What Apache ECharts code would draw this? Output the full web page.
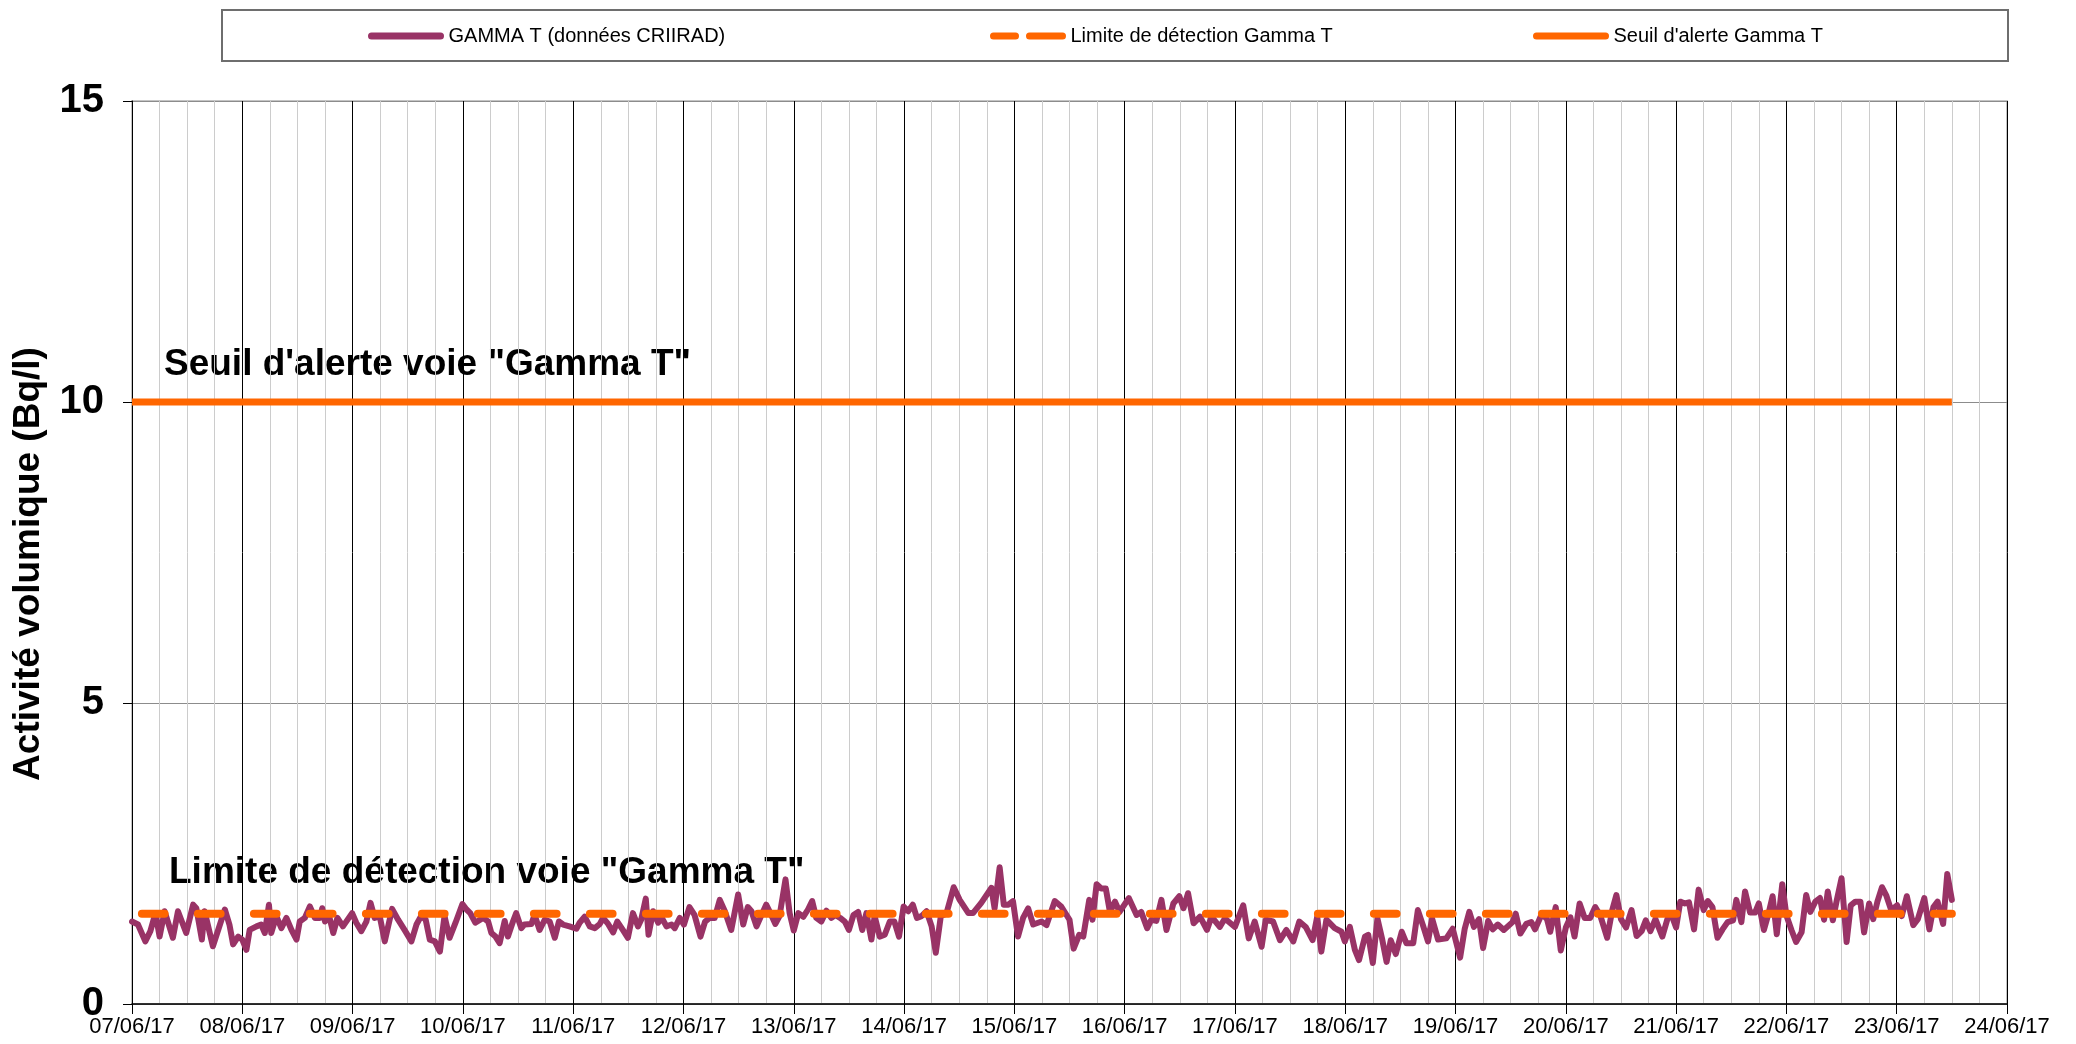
<!DOCTYPE html>
<html>
<head>
<meta charset="utf-8">
<title>Activité volumique Gamma T</title>
<script src="https://cdn.jsdelivr.net/npm/echarts@6/dist/echarts.min.js"></script>
<style>
  html, body { margin: 0; padding: 0; background: #ffffff; }
  #chart { width: 2076px; height: 1044px; }
</style>
</head>
<body>
<div id="chart"></div>
<script>
// Day labels of the time axis (one tick per day, midnight)
const dayLabels = [
  '07/06/17', '08/06/17', '09/06/17', '10/06/17', '11/06/17', '12/06/17',
  '13/06/17', '14/06/17', '15/06/17', '16/06/17', '17/06/17', '18/06/17',
  '19/06/17', '20/06/17', '21/06/17', '22/06/17', '23/06/17', '24/06/17'
];

// GAMMA T measurements: time in hours since 07/06/17 00:00, activity in Bq/l
const gammaHours = [
  0, 1.3, 2.9, 4.0, 5.1, 6.0, 7.1, 8.9, 10.0, 11.8, 13.3, 14.0, 15.2, 15.8, 17.6, 20.2, 21.2, 22.0, 23.1,
  24.0, 24.9, 25.6, 27.1, 28.1, 28.9, 29.8, 30.3, 31.4, 32.5, 33.6, 34.7, 35.8, 36.5, 37.6, 38.7, 39.8,
  40.9, 41.4, 42.0, 42.9, 43.8, 44.7, 45.9, 47.9,
  48.8, 49.9, 51.0, 51.9, 52.8, 53.9, 55.0, 56.6, 57.9, 59.3, 60.8, 61.9, 62.9, 63.9, 64.8, 65.9, 67.0,
  68.0, 69.1, 70.4, 71.9, 72.8, 73.6, 74.7, 76.4, 77.5, 78.2, 79.1, 80.0, 81.1, 81.8, 82.9, 83.6, 84.7,
  85.4, 86.9, 87.6, 88.7, 89.8, 90.9, 92.0, 92.9, 93.8, 95.2, 96.7,
  97.4, 98.5, 99.6, 100.7, 101.8, 102.5, 103.6, 104.7, 105.6, 106.8, 107.9, 109.0, 110.1, 110.8, 111.8,
  112.4, 113.4, 114.5, 115.3, 116.3, 117.4, 118.1, 119.2, 120.1, 121.3, 122.4, 123.7, 124.7, 125.7,
  126.8, 127.9, 129.0, 130.4, 131.9, 133.0, 134.0, 134.8, 135.9, 137.0, 138.0, 139.1, 140.0, 140.9,
  142.2, 143.1, 144.0, 145.0, 146.1,
  147.1, 148.0, 148.9, 150.0, 151.1, 152.2, 153.1, 154.1, 155.1, 156.0, 157.0, 158.0, 158.9, 159.8,
  160.9, 161.6, 162.7, 163.8, 164.9, 165.9, 166.9, 167.9, 168.9, 169.9, 170.8, 171.8, 172.9, 174.0,
  174.9, 176.0, 177.2, 178.8, 180.1, 182.0, 183.0, 184.8, 187.0, 187.7, 188.8, 189.7, 190.7, 191.7,
  192.8, 193.9, 195.0, 196.1,
  197.9, 199.0, 200.8, 202.2, 204.0, 204.9, 206.1, 207.0, 208.3, 209.0, 209.9, 210.9, 211.9, 212.8,
  213.9, 214.9, 216.9, 218.6, 219.6, 220.9, 221.8, 222.9, 224.0, 225.1, 226.6, 227.9, 228.8, 229.8,
  231.0, 232.4, 233.9, 234.9, 236.7, 237.8, 240.0, 241.8, 243.0, 244.3, 245.8, 246.7, 248.3, 249.8,
  251.2, 252.7, 254.0, 255.4, 256.9, 257.9, 258.8, 259.9, 261.7, 263.2, 263.9, 265.0, 266.1, 267.0,
  268.3, 269.0, 270.0, 271.0, 272.0, 273.0, 273.9, 275.0, 276.3, 277.3, 278.8, 279.8, 280.9, 282.0,
  282.9, 284.2, 286.0, 287.4, 289.0, 290.0, 291.0, 292.0, 293.1, 294.0, 295.1, 296.1, 297.2, 298.5,
  300.4, 301.1, 302.1, 303.4, 304.5, 305.3, 306.8, 307.9, 308.6, 309.8, 310.9, 312.0, 313.0, 313.9,
  315.0, 316.1, 317.3, 318.4, 319.5, 321.0, 322.1, 323.0, 324.0, 325.1, 326.3, 327.4, 328.5, 329.4,
  330.4, 331.5, 333.0, 334.1, 334.9, 336.0, 336.9, 337.9, 338.8, 339.9, 340.9, 342.0, 342.9, 343.9,
  345.0, 346.1, 347.2, 348.4, 349.1, 350.2, 351.0, 352.1, 353.2, 354.0, 355.1, 356.1, 357.0, 357.9,
  359.1, 360.0, 361.1, 362.1, 363.3, 364.3, 365.2, 366.3, 367.3, 368.2, 369.0, 370.1, 370.9, 372.0,
  373.1, 374.0, 375.0, 376.1, 376.9, 378.0, 378.9, 379.8, 380.8, 381.7, 382.8, 384.1, 385.1, 386.2,
  387.6, 388.6, 390.0, 391.1, 392.0, 392.9, 394.1, 395.0, 396.0
];
const gammaValues = [
  1.37, 1.32, 1.04, 1.21, 1.51, 1.12, 1.54, 1.10, 1.54, 1.18, 1.65, 1.59, 1.07, 1.54, 0.96, 1.57, 1.32, 0.99, 1.12,
  1.07, 0.90, 1.23, 1.29, 1.32, 1.18, 1.65, 1.18, 1.46, 1.26, 1.43, 1.23, 1.07, 1.37, 1.43, 1.62, 1.43,
  1.43, 1.59, 1.37, 1.46, 1.18, 1.43, 1.29, 1.51,
  1.35, 1.21, 1.37, 1.68, 1.43, 1.46, 1.04, 1.58, 1.40, 1.23, 1.04, 1.32, 1.46, 1.40, 1.07, 1.04, 0.87,
  1.46, 1.10, 1.35, 1.66, 1.57, 1.51, 1.35, 1.43, 1.37, 1.18, 1.12, 1.01, 1.38, 1.12, 1.37, 1.51, 1.26,
  1.32, 1.33, 1.48, 1.23, 1.40, 1.37, 1.10, 1.37, 1.32, 1.29, 1.25,
  1.35, 1.45, 1.29, 1.26, 1.33, 1.43, 1.33, 1.19, 1.37, 1.23, 1.10, 1.51, 1.29, 1.40, 1.75,
  1.15, 1.54, 1.35, 1.43, 1.29, 1.32, 1.26, 1.43, 1.32, 1.61, 1.48, 1.12, 1.37, 1.43,
  1.43, 1.73, 1.54, 1.23, 1.82, 1.32, 1.61, 1.54, 1.29, 1.48, 1.65, 1.48, 1.33, 1.46,
  2.07, 1.51, 1.22, 1.51, 1.45,
  1.57, 1.71, 1.43, 1.37, 1.55, 1.43, 1.48, 1.43, 1.37, 1.23, 1.48, 1.53, 1.23, 1.51,
  1.07, 1.46, 1.12, 1.15, 1.37, 1.37, 1.12, 1.62, 1.54, 1.65, 1.43, 1.46, 1.54, 1.29,
  0.85, 1.46, 1.50, 1.94, 1.73, 1.51, 1.51, 1.68, 1.93, 1.59, 2.27, 1.65, 1.65, 1.71,
  1.12, 1.43, 1.59, 1.32,
  1.37, 1.31, 1.71, 1.62, 1.40, 0.92, 1.15, 1.12, 1.73, 1.40, 1.99, 1.92, 1.92, 1.53,
  1.70, 1.53, 1.76, 1.48, 1.53, 1.26, 1.40, 1.38, 1.73, 1.23, 1.67, 1.79, 1.59, 1.84,
  1.34, 1.45, 1.23, 1.45, 1.28, 1.42, 1.28, 1.64, 1.09, 1.37, 0.95, 1.40, 1.37, 1.06,
  1.23, 1.04, 1.37, 1.28, 1.06, 1.45, 0.87, 1.40, 1.26, 1.20, 1.04, 1.28, 0.90, 0.73,
  1.12, 1.15, 0.68, 1.42, 1.09, 0.70, 1.06, 0.83, 1.20, 1.01, 1.01, 1.56, 1.31, 1.04,
  1.42, 1.07, 1.09, 1.25, 0.77, 1.25, 1.53, 1.28, 1.41, 0.93, 1.38, 1.24, 1.32, 1.23,
  1.36, 1.50, 1.17, 1.33, 1.36, 1.24, 1.50, 1.41, 1.20, 1.61, 0.89, 1.27, 1.44, 1.12,
  1.67, 1.43, 1.43, 1.61, 1.47, 1.10, 1.56, 1.81, 1.41, 1.27, 1.56, 1.13, 1.21, 1.39,
  1.21, 1.41, 1.12, 1.41, 1.50, 1.27, 1.70, 1.67, 1.69, 1.24, 1.90, 1.56, 1.71, 1.61,
  1.10, 1.24, 1.36, 1.39, 1.73, 1.36, 1.87, 1.52, 1.52, 1.67, 1.23, 1.50, 1.79, 1.16,
  1.99, 1.47, 1.23, 1.03, 1.19, 1.81, 1.53, 1.70, 1.76, 1.40, 1.87, 1.39, 1.70, 2.09,
  1.03, 1.64, 1.70, 1.70, 1.19, 1.67, 1.41, 1.70, 1.94, 1.81, 1.56, 1.64, 1.46, 1.79,
  1.31, 1.41, 1.76, 1.24, 1.61, 1.70, 1.33, 2.16, 1.73
];

// Reference levels of the Gamma T channel (Bq/l) and the span they cover (hours)
const detectionLimit = 1.5;
const alertThreshold = 10;
const referenceStartHour = 0;
const referenceEndHour = 396;

// Y axis ticks
const yMin = 0, yMax = 15, yStep = 5;

const seriesNames = ['GAMMA T (données CRIIRAD)', 'Limite de détection Gamma T', "Seuil d'alerte Gamma T"];

const FONT = '"Liberation Sans", Arial, sans-serif';
const PLUM = '#993366';
const ORANGE = '#FF6600';

const chart = echarts.init(document.getElementById('chart'), null, { renderer: 'canvas' });

// Legend entries show the line only: the marker in the middle of each icon is hidden
const legendText = { fontFamily: FONT, fontSize: 20, color: '#000000', padding: [0, 0, 0, 3] };
const legendBase = {
  top: 26, padding: 0, itemWidth: 69, itemHeight: 14,
  itemStyle: { opacity: 0 },
  selectedMode: false, textStyle: legendText
};

chart.setOption({
  animation: false,
  backgroundColor: '#ffffff',
  grid: {
    left: 132, right: 69, top: 101, bottom: 40,
    containLabel: false, outerBoundsMode: 'none',
    show: true, borderColor: '#c4c4c4', borderWidth: 2, backgroundColor: 'transparent'
  },
  legend: [
    Object.assign({}, legendBase, {
      data: [seriesNames[0]], left: 368,
      lineStyle: { width: 7, cap: 'round', opacity: 1 }
    }),
    Object.assign({}, legendBase, {
      data: [seriesNames[1]], left: 990,
      lineStyle: { width: 7, type: [22, 14, 33, 0], dashOffset: 0, cap: 'round', opacity: 1 }
    }),
    Object.assign({}, legendBase, {
      data: [seriesNames[2]], left: 1533,
      lineStyle: { width: 7, cap: 'round', opacity: 1 }
    })
  ],
  graphic: [
    {
      type: 'rect', left: 221, top: 9, z: 0, silent: true,
      shape: { width: 1786, height: 51 },
      style: { fill: 'transparent', stroke: '#6e6e6e', lineWidth: 2 }
    },
    {
      type: 'text', x: 29, y: 564, rotation: Math.PI / 2, silent: true,
      style: {
        text: 'Activité volumique (Bq/l)', font: 'bold 37px ' + FONT, fill: '#000000',
        align: 'center', verticalAlign: 'middle'
      }
    },
    {
      type: 'text', left: 164, top: 346, silent: true,
      style: { text: 'Seuil d\'alerte voie "Gamma T"', font: 'bold 37px ' + FONT, fill: '#000000' }
    },
    {
      type: 'text', left: 169, top: 854, silent: true,
      style: { text: 'Limite de détection voie "Gamma T"', font: 'bold 37px ' + FONT, fill: '#000000' }
    }
  ],
  xAxis: {
    type: 'value',
    min: 0, max: (dayLabels.length - 1) * 24, interval: 24,
    axisLine: { show: true, onZero: false, lineStyle: { color: '#000000', width: 1.5 } },
    axisTick: { show: true, length: 10, lineStyle: { color: '#000000', width: 1 } },
    axisLabel: {
      show: true, margin: 12, fontFamily: FONT, fontSize: 22, color: '#000000',
      formatter: v => dayLabels[Math.round(v / 24)] || ''
    },
    splitLine: { show: true, lineStyle: { color: '#000000', width: 1 } },
    minorTick: { show: false, splitNumber: 4 },
    minorSplitLine: { show: true, lineStyle: { color: '#cccccc', width: 1 } }
  },
  yAxis: {
    type: 'value',
    min: yMin, max: yMax, interval: yStep,
    axisLine: { show: true, lineStyle: { color: '#000000', width: 1 } },
    axisTick: { show: true, length: 9, lineStyle: { color: '#000000', width: 1 } },
    axisLabel: { margin: 28, fontFamily: FONT, fontSize: 40, fontWeight: 'bold', color: '#000000' },
    splitLine: { show: true, lineStyle: { color: '#8c8c8c', width: 1 } }
  },
  series: [
    {
      name: seriesNames[0], type: 'line', symbol: 'none', z: 2,
      data: gammaHours.map((h, i) => [h, gammaValues[i]]),
      lineStyle: { color: PLUM, width: 6, join: 'round', cap: 'round' },
      itemStyle: { color: PLUM }
    },
    {
      name: seriesNames[1], type: 'line', symbol: 'none', z: 3,
      data: [[referenceStartHour, detectionLimit], [referenceEndHour, detectionLimit]],
      lineStyle: { color: ORANGE, width: 8, type: [22.7, 33.3], dashOffset: 46.1, cap: 'round' },
      itemStyle: { color: ORANGE }
    },
    {
      name: seriesNames[2], type: 'line', symbol: 'none', z: 3,
      data: [[referenceStartHour, alertThreshold], [referenceEndHour, alertThreshold]],
      lineStyle: { color: ORANGE, width: 7 },
      itemStyle: { color: ORANGE }
    }
  ]
});
</script>
</body>
</html>
